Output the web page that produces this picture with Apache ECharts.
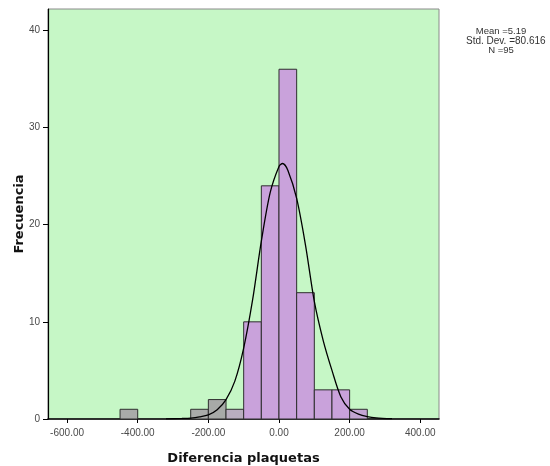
<!DOCTYPE html>
<html>
<head>
<meta charset="utf-8">
<script src="https://cdn.jsdelivr.net/npm/echarts@6/dist/echarts.min.js"></script>
<style>
  html, body { margin: 0; padding: 0; background: #ffffff; }
  #chart { width: 550px; height: 466px; }
</style>
</head>
<body>
<div id="chart"></div>
<script>
// Histogram bins (lower / upper edge) and their frequencies
const binLow  = [-450, -250, -200, -150, -100, -50,  0,  50, 100, 150, 200];
const binHigh = [-400, -200, -150, -100,  -50,   0, 50, 100, 150, 200, 250];
const counts  = [   1,    1,    2,    1,   10,  24, 36,  13,   3,   3,   1];

// Fitted normal curve, sampled points (x, frequency)
const curveX = [-320, -275, -250, -225, -200, -175, -150, -125, -100, -75, -50, -25, 0, 10, 25, 50, 75, 100, 125, 150, 175, 200, 225, 250, 275, 320];
const curveY = [0.02, 0.06, 0.1, 0.22, 0.42, 0.95, 2.0, 3.9, 7.3, 12.2, 18.3, 23.3, 26.0, 26.3, 25.6, 22.7, 17.9, 12.1, 8.1, 5.0, 2.3, 1.0, 0.5, 0.25, 0.12, 0.03];

// Axis ticks
const xTicks = [-600, -400, -200, 0, 200, 400];
const yTicks = [0, 10, 20, 30, 40];

// Summary statistics
const statLines = ['Mean =5.19', 'Std. Dev. =80.616', 'N =95'];

// Fill per bar (tails drawn in grey)
const barFill = ['#a9aba9', '#a9aba9', '#a7aaa7', '#b9aebf', '#c9a2db', '#c9a2db', '#c9a2db', '#c9a2db', '#c9a2db', '#c9a2db', '#c3a6d3'];

const histData = counts.map((c, i) => [binLow[i], binHigh[i], c]);
const curveData = curveX.map((x, i) => [x, curveY[i]]);

const chart = echarts.init(document.getElementById('chart'), null, { renderer: 'canvas' });

const axisLabelStyle = { color: '#4a4a4a', fontFamily: 'Liberation Sans, Arial, sans-serif', fontSize: 10 };

// Placement of the statistics block (per line)
const statPos = [
  { x: 501, y: 31.5, align: 'center', size: 9.5 },
  { x: 466, y: 41, align: 'left', size: 10 },
  { x: 501, y: 50.5, align: 'center', size: 9.5 }
];

chart.setOption({
  animation: false,
  backgroundColor: '#ffffff',
  grid: {
    left: 48, right: 111, top: 9, bottom: 47,
    outerBoundsMode: 'none',
    containLabel: false,
    show: true,
    backgroundColor: '#c6f7c6',
    borderColor: '#8a8a8a',
    borderWidth: 1
  },
  xAxis: {
    type: 'value',
    min: -654,
    max: 453,
    name: 'Diferencia plaquetas',
    nameLocation: 'middle',
    nameGap: 33,
    nameTextStyle: { color: '#111', fontFamily: 'DejaVu Sans, sans-serif', fontWeight: 'bold', fontSize: 13 },
    axisLine: { show: true, onZero: false, lineStyle: { color: '#000', width: 1.5 } },
    axisTick: { show: true, length: 4, customValues: xTicks, lineStyle: { color: '#000' } },
    axisLabel: Object.assign({ margin: 9, customValues: xTicks, formatter: v => v.toFixed(2) }, axisLabelStyle),
    splitLine: { show: false }
  },
  yAxis: {
    type: 'value',
    min: 0,
    max: 42.2,
    name: 'Frecuencia',
    nameLocation: 'middle',
    nameGap: 22,
    nameMoveOverlap: false,
    nameRotate: 90,
    nameTextStyle: { color: '#111', fontFamily: 'DejaVu Sans, sans-serif', fontWeight: 'bold', fontSize: 13 },
    axisLine: { show: true, onZero: false, lineStyle: { color: '#000', width: 1.2 } },
    axisTick: { show: true, length: 5, customValues: yTicks, lineStyle: { color: '#000' } },
    axisLabel: Object.assign({ margin: 8, customValues: yTicks }, axisLabelStyle),
    splitLine: { show: false }
  },
  graphic: statLines.map((t, i) => ({
    type: 'text',
    x: statPos[i].x,
    y: statPos[i].y,
    style: {
      text: t,
      fill: '#333',
      font: statPos[i].size + 'px "Liberation Sans", Arial, sans-serif',
      textAlign: statPos[i].align,
      textVerticalAlign: 'middle'
    }
  })),
  series: [
    {
      type: 'custom',
      data: histData,
      encode: { x: [0, 1], y: 2 },
      renderItem: function (params, api) {
        const p0 = api.coord([api.value(0), api.value(2)]);
        const p1 = api.coord([api.value(1), 0]);
        return {
          type: 'rect',
          shape: { x: p0[0], y: p0[1], width: p1[0] - p0[0], height: p1[1] - p0[1] },
          style: { fill: barFill[params.dataIndex], stroke: '#2e2e2e', lineWidth: 1 }
        };
      }
    },
    {
      type: 'line',
      data: curveData,
      smooth: 0.3,
      showSymbol: false,
      symbol: 'none',
      lineStyle: { color: '#000', width: 1.3 },
      z: 5
    }
  ]
});
</script>
</body>
</html>
